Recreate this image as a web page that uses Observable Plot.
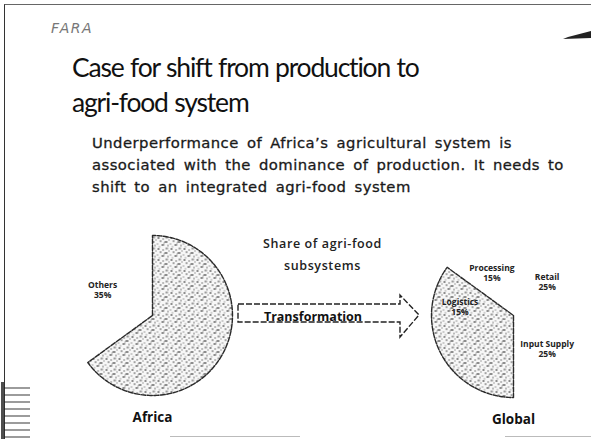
<!DOCTYPE html>
<html>
<head>
<meta charset="utf-8">
<script src="https://cdn.jsdelivr.net/npm/d3@7"></script>
<script src="https://cdn.jsdelivr.net/npm/@observablehq/plot@0.6"></script>
<style>
  body { margin: 0; background: #fff; }
  #page { position: relative; width: 591px; height: 439px; overflow: hidden; background: #fff; font-family: "Open Sans", sans-serif; color: #111; }
  .abs { position: absolute; white-space: nowrap; }
  #frame { left: 4px; top: 4px; width: 640px; height: 500px; border-left: 1.5px solid #333; border-top: 1.2px solid #666; }
  #fara { left: 51px; top: 20px; font-family: "DejaVu Sans", sans-serif; font-style: italic; font-size: 14px; letter-spacing: 1.5px; color: #777; }
  #title { left: 72px; top: 50px; font-family: Lato, sans-serif; font-size: 26.5px; letter-spacing: -1.2px; word-spacing: 1px; line-height: 35px; color: #111; }
  #sub { left: 92px; top: 132px; font-family: "DejaVu Sans", sans-serif; font-size: 14.8px; letter-spacing: 0.45px; word-spacing: 3px; line-height: 22px; color: #1a1a1a; -webkit-text-stroke: 0.3px #1a1a1a; }
  #share { left: 250px; top: 233px; width: 145px; text-align: center; font-weight: 600; font-size: 12.5px; line-height: 22px; color: #222; letter-spacing: 0.6px; }
  #chart { left: 0; top: 225px; }
  #arrow { left: 230px; top: 290px; }
  .scan { height: 1px; background: #bbb; }
  #ruler { left: 1px; top: 382px; width: 26px; height: 57px; border-left: 3px solid #222;
    background: repeating-linear-gradient(180deg, transparent 0 5px, rgba(30,30,30,0.55) 5px 7px); opacity: 0.8; }
</style>
</head>
<body>
<div id="page">
  <div id="frame" class="abs"></div>
  <div id="ruler" class="abs"></div>
  <div id="fara" class="abs">FARA</div>
  <svg class="abs" style="left:560px;top:26px" width="31" height="20">
    <path d="M31,5 L8,11 L3,13 L31,12 Z" fill="#222"/>
  </svg>
  <div id="title" class="abs">Case for shift from production to<br>agri-food system</div>
  <div id="sub" class="abs">Underperformance of Africa’s agricultural system is<br>associated with the dominance of production. It needs to<br>shift to an integrated agri-food system</div>
  <div id="share" class="abs">Share of agri-food<br>subsystems</div>
  <svg id="arrow" class="abs" width="200" height="52">
    <path d="M8,14 H170 V5 L189,25 L170,47 V32 H8 Z" fill="none" stroke="#222" stroke-width="1.4" stroke-dasharray="6,2"/>
    <text x="83" y="27.5" text-anchor="middle" font-family="Open Sans, sans-serif" font-weight="700" font-size="12.5" fill="#111" dominant-baseline="middle">Transformation</text>
  </svg>
  <div class="abs scan" style="left:170px;top:436px;width:130px"></div>
  <div class="abs scan" style="left:505px;top:436px;width:86px"></div>
  <div id="chart" class="abs"></div>
</div>
<script>
// ---- data ----
const africaSlices = ["Production", "Others"];
const africaValues = [65, 35];
const africaLabels = ["", "Others\n35%"];
const africaShaded = [true, false];

const globalSlices = ["Retail", "Input Supply", "Production", "Logistics", "Processing"];
const globalValues = [25, 25, 20, 15, 15];
const globalLabels = ["Retail\n25%", "Input Supply\n25%", "", "Logistics\n15%", "Processing\n15%"];
const globalShaded = [false, false, true, true, false];

const pieNames = ["Africa", "Global"];

// ---- layout (chart units) ----
const pies = [
  {name: pieNames[0], cx: 152, cy: 315, r: 80, labelR: 0.7, slices: africaSlices, values: africaValues, labels: africaLabels, shaded: africaShaded},
  {name: pieNames[1], cx: 513, cy: 315, r: 82, labelR: 0.58, slices: globalSlices, values: globalValues, labels: globalLabels, shaded: globalShaded}
];

function arcPoints(cx, cy, r, a0, a1) {
  const pts = [];
  const n = Math.max(2, Math.ceil((a1 - a0) / 0.02));
  for (let k = 0; k <= n; k++) {
    const t = a0 + (a1 - a0) * k / n;
    pts.push([cx + r * Math.sin(t), cy - r * Math.cos(t)]);
  }
  return pts;
}

const polys = [];
const outlines = [];
const labs = [];
for (const p of pies) {
  const arcs = d3.pie().sort(null).value(d => d)(p.values);
  arcs.forEach((a, i) => {
    const id = p.name + "-" + p.slices[i];
    const pts = [[p.cx, p.cy], ...arcPoints(p.cx, p.cy, p.r, a.startAngle, a.endAngle), [p.cx, p.cy]];
    for (const q of pts) polys.push({id, x: q[0], y: q[1], shaded: p.shaded[i]});
    const m = (a.startAngle + a.endAngle) / 2;
    const lr = p.shaded[i] ? 0.66 : p.labelR;
    if (p.labels[i]) labs.push({x: p.cx + lr * p.r * Math.sin(m), y: p.cy - lr * p.r * Math.cos(m), text: p.labels[i]});
  });
  // outline of each contiguous run of shaded slices
  let run = null;
  arcs.forEach((a, i) => {
    if (p.shaded[i]) {
      if (!run) run = {a0: a.startAngle, a1: a.endAngle};
      else run.a1 = a.endAngle;
    }
    if ((!p.shaded[i] || i === arcs.length - 1) && run) {
      const id = p.name + "-run-" + i;
      const pts = [[p.cx, p.cy], ...arcPoints(p.cx, p.cy, p.r, run.a0, run.a1), [p.cx, p.cy]];
      for (const q of pts) outlines.push({id, x: q[0], y: q[1]});
      run = null;
    }
  });
}

const chart = Plot.plot({
  width: 591,
  height: 214,
  margin: 0,
  x: {domain: [0, 591], axis: null},
  y: {domain: [225, 439], reverse: true, axis: null},
  marks: [
    Plot.line(polys.filter(d => !d.shaded), {x: "x", y: "y", z: "id", fill: "white", stroke: "none"}),
    Plot.line(polys.filter(d => d.shaded), {x: "x", y: "y", z: "id", fill: "url(#stip)", stroke: "none"}),
    Plot.line(outlines, {x: "x", y: "y", z: "id", stroke: "#2a2a2a", strokeWidth: 1.4, strokeDasharray: "5,1.5"}),
    Plot.text(labs, {x: "x", y: "y", text: "text", fontSize: 8.5, fontWeight: 700, fill: "#222", fontFamily: "Open Sans, sans-serif", lineHeight: 1.15}),
    Plot.text(pies, {x: "cx", y: d => d.cy + d.r + 22, text: "name", fontSize: 13.5, fontWeight: 700, fill: "#111", fontFamily: "Open Sans, sans-serif"})
  ]
});

const ns = "http://www.w3.org/2000/svg";
const defs = document.createElementNS(ns, "defs");
defs.innerHTML = `<pattern id="stip" width="13" height="11" patternUnits="userSpaceOnUse">
  <rect width="13" height="11" fill="#f7f7f7"/>
  <rect x="1" y="1" width="2" height="1" fill="#222"/>
  <rect x="6" y="2" width="1.2" height="1" fill="#333"/>
  <rect x="9" y="0.5" width="2.5" height="1" fill="#444"/>
  <rect x="3.5" y="4" width="1.2" height="1.2" fill="#111"/>
  <rect x="8" y="5" width="3" height="1" fill="#222"/>
  <rect x="12" y="3" width="1" height="1" fill="#555"/>
  <rect x="0.5" y="7" width="1" height="1" fill="#444"/>
  <rect x="5" y="8" width="2.5" height="1" fill="#222"/>
  <rect x="11" y="8.5" width="1" height="1.2" fill="#333"/>
  <rect x="2.5" y="9.8" width="1" height="1" fill="#555"/>
  <rect x="7" y="6.3" width="1" height="1" fill="#666"/>
</pattern>`;
chart.prepend(defs);
document.getElementById("chart").appendChild(chart);
</script>
</body>
</html>
